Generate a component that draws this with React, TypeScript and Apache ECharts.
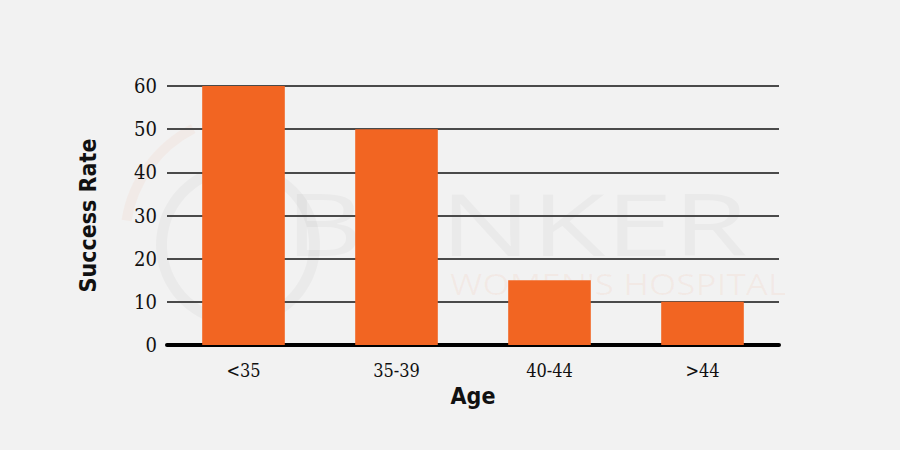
import * as echarts from 'echarts';
import { useEffect, useRef } from 'react';

const ageGroups = ['<35', '35-39', '40-44', '>44'];
const successRates = [60, 50, 15, 10];
const yTicks = [0, 10, 20, 30, 40, 50, 60];

const ORANGE = '#f26522';
const tickFont = "'DejaVu Serif Condensed', 'Liberation Serif', serif";
const nameFont = "'Liberation Sans Narrow', 'DejaVu Sans Condensed', sans-serif";

function SuccessRateChart() {
  const chartRef = useRef(null);

  useEffect(() => {
    const myChart = echarts.init(chartRef.current, null, { renderer: 'svg' });

    const option = {
      animation: false,
      backgroundColor: '#f2f2f2',
      grid: {
        left: 167,
        right: 121,
        top: 86,
        bottom: 105,
      },
      // faint watermark behind the bars
      graphic: [
        {
          type: 'ring',
          z: -10,
          shape: { cx: 238, cy: 245, r: 82, r0: 71 },
          style: { fill: 'rgba(0,0,0,0.03)' },
        },
        {
          type: 'arc',
          z: -10,
          shape: { cx: 250, cy: 240, r: 125, startAngle: Math.PI * 1.05, endAngle: Math.PI * 1.35 },
          style: { stroke: 'rgba(242,101,34,0.05)', lineWidth: 10, fill: 'none' },
        },
        {
          type: 'text',
          z: -10,
          x: 285,
          y: 193,
          scaleX: 1.41,
          style: {
            text: 'BANKER',
            fontSize: 86,
            lineHeight: 60,
            fontFamily: "'Open Sans', sans-serif",
            fill: 'rgba(0,0,0,0.03)',
          },
        },
        {
          type: 'text',
          z: -10,
          x: 450,
          y: 272,
          scaleX: 1.21,
          style: {
            text: "WOMEN'S HOSPITAL",
            fontSize: 29,
            lineHeight: 24,
            fontFamily: "'Open Sans', sans-serif",
            fill: 'rgba(242,101,34,0.06)',
          },
        },
      ],
      xAxis: {
        type: 'category',
        data: ageGroups,
        name: 'Age',
        nameLocation: 'middle',
        nameGap: 39,
        nameTextStyle: {
          fontFamily: nameFont,
          fontWeight: 'bold',
          fontSize: 23,
          color: '#111',
        },
        axisLine: { lineStyle: { color: '#000', width: 4 } },
        axisTick: { show: false },
        axisLabel: {
          margin: 16,
          fontFamily: tickFont,
          fontSize: 18,
          color: '#111',
        },
      },
      yAxis: {
        type: 'value',
        min: yTicks[0],
        max: yTicks[yTicks.length - 1],
        interval: 10,
        name: 'Success Rate',
        nameLocation: 'middle',
        nameGap: 68,
        nameTextStyle: {
          fontFamily: nameFont,
          fontWeight: 'bold',
          fontSize: 23,
          color: '#111',
        },
        axisLine: { show: false },
        axisTick: { show: false },
        axisLabel: {
          margin: 10,
          fontFamily: tickFont,
          fontSize: 20,
          color: '#111',
        },
        splitLine: { lineStyle: { color: '#4a4a4a', width: 2 } },
      },
      series: [
        {
          name: 'Success Rate',
          type: 'bar',
          barWidth: '54%',
          itemStyle: { color: ORANGE },
          data: successRates,
        },
      ],
    };

    myChart.setOption(option);

    return () => {
      myChart.dispose();
    };
  }, []);

  return (
    <div
      ref={chartRef}
      style={{ position: 'fixed', left: 0, top: 0, width: '900px', height: '450px' }}
    ></div>
  );
}

export default function App() {
  return <SuccessRateChart />;
}
